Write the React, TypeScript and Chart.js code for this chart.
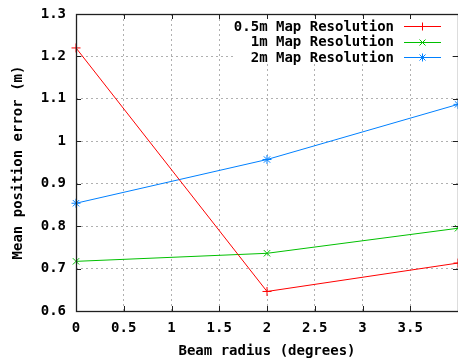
import React, { useEffect, useRef } from 'react';
import { Chart, registerables } from 'chart.js';
Chart.register(...registerables);

const beamRadius = [0, 2, 4];
const res05 = [1.22, 0.646, 0.713];
const res1 = [0.717, 0.736, 0.795];
const res2 = [0.854, 0.957, 1.087];
const seriesLabels = ['0.5m Map Resolution', '1m Map Resolution', '2m Map Resolution'];
const seriesColors = ['#ff0000', '#00c000', '#0080ff'];
const seriesMarkers = ['cross', 'crossRot', 'star'];
const xTitle = 'Beam radius (degrees)';
const yTitle = 'Mean position error (m)';
const xMin = 0, xMax = 4, xStep = 0.5;
const yMin = 0.6, yMax = 1.3, yStep = 0.1;

const FONT = "'DejaVu Sans Mono', monospace";

function drawMarker(ctx: CanvasRenderingContext2D, kind: string, x: number, y: number, r: number) {
  ctx.beginPath();
  if (kind === 'cross' || kind === 'star') {
    ctx.moveTo(x - r, y); ctx.lineTo(x + r, y);
    ctx.moveTo(x, y - r); ctx.lineTo(x, y + r);
  }
  if (kind === 'crossRot' || kind === 'star') {
    const d = r * 0.75;
    ctx.moveTo(x - d, y - d); ctx.lineTo(x + d, y + d);
    ctx.moveTo(x - d, y + d); ctx.lineTo(x + d, y - d);
  }
  ctx.stroke();
}

const framePlugin = {
  id: 'frameAndLegend',
  afterDraw(chart: any) {
    const { ctx, chartArea, scales } = chart;
    const { left, right, top, bottom } = chartArea;
    ctx.save();
    ctx.strokeStyle = '#202020';
    ctx.lineWidth = 1.3;
    ctx.strokeRect(left + 0.5, top + 0.5, right - left, bottom - top);
    // inward tick marks
    const tl = 5;
    ctx.lineWidth = 1;
    ctx.beginPath();
    for (let v = xMin; v <= xMax + 1e-9; v += xStep) {
      const px = Math.round(scales.x.getPixelForValue(v)) + 0.5;
      ctx.moveTo(px, bottom); ctx.lineTo(px, bottom - tl);
      ctx.moveTo(px, top); ctx.lineTo(px, top + tl);
    }
    for (let v = yMin; v <= yMax + 1e-9; v += yStep) {
      const py = Math.round(scales.y.getPixelForValue(v)) + 0.5;
      ctx.moveTo(left, py); ctx.lineTo(left + tl, py);
      ctx.moveTo(right, py); ctx.lineTo(right - tl, py);
    }
    ctx.stroke();
    // legend
    ctx.fillStyle = '#ffffff';
    ctx.fillRect(233, 19, 219, 45);
    const rows = [26, 41.5, 57];
    ctx.font = `bold 14px ${FONT}`;
    ctx.textAlign = 'right';
    ctx.textBaseline = 'middle';
    seriesLabels.forEach((lab, i) => {
      const y = rows[i];
      ctx.fillStyle = '#000';
      ctx.fillText(lab, 394, y + 1);
      ctx.strokeStyle = seriesColors[i];
      ctx.lineWidth = 1;
      ctx.beginPath();
      ctx.moveTo(404, Math.round(y) + 0.5);
      ctx.lineTo(441, Math.round(y) + 0.5);
      ctx.stroke();
      drawMarker(ctx, seriesMarkers[i], 422.5, Math.round(y) + 0.5, 4);
    });
    ctx.restore();
  },
};

export default function App() {
  const ref = useRef<HTMLCanvasElement>(null);
  useEffect(() => {
    if (!ref.current) return;
    const font = { family: FONT, size: 14, weight: 'bold' as const };
    const series = [res05, res1, res2];
    const chart = new Chart(ref.current, {
      type: 'line',
      data: {
        datasets: series.map((vals, i) => ({
          label: seriesLabels[i],
          data: beamRadius.map((x, j) => ({ x, y: vals[j] })),
          borderColor: seriesColors[i],
          backgroundColor: seriesColors[i],
          borderWidth: 1,
          pointStyle: seriesMarkers[i] as any,
          pointRadius: 4.5,
          pointBorderWidth: 1,
          pointBorderColor: seriesColors[i],
          tension: 0,
          fill: false,
          clip: false as any,
        })),
      },
      options: {
        animation: false,
        responsive: false,
        layout: { autoPadding: false, padding: { left: 0, top: 14, right: 2, bottom: 0 } },
        plugins: { legend: { display: false }, tooltip: { enabled: false } },
        scales: {
          x: {
            type: 'linear',
            min: xMin,
            max: xMax,
            afterFit(s: any) { s.height = 47; s.paddingLeft = 0; s.paddingRight = 0; },
            grid: { color: '#b0b0b0', drawTicks: false, lineWidth: 1 },
            border: { display: false, dash: [2, 3] },
            ticks: {
              stepSize: xStep,
              padding: 9,
              color: '#000',
              font,
              maxRotation: 0,
              autoSkip: false,
              callback: (v: any) => (Math.abs(v - xMax) < 1e-9 ? '' : String(Number(Number(v).toFixed(1)))),
            },
            title: { display: true, text: xTitle, color: '#000', font: { ...font, lineHeight: 1 }, padding: { top: 0, bottom: 0 } },
          },
          y: {
            type: 'linear',
            min: yMin,
            max: yMax,
            afterFit(s: any) { s.width = 76; s.paddingTop = 0; s.paddingBottom = 0; },
            grid: { color: '#b0b0b0', drawTicks: false, lineWidth: 1 },
            border: { display: false, dash: [2, 3] },
            ticks: {
              stepSize: yStep,
              padding: 10,
              color: '#000',
              font,
              callback: (v: any) => String(Number(Number(v).toFixed(1))),
            },
            title: { display: true, text: yTitle, color: '#000', font: { ...font, lineHeight: 1 }, padding: { top: 11, bottom: 0 } },
          },
        },
      },
      plugins: [framePlugin],
    });
    return () => chart.destroy();
  }, []);
  return (
    <div style={{ position: 'fixed', left: 0, top: 0, width: 458, height: 358, overflow: 'hidden', background: '#fff' }}>
      <canvas ref={ref} width={460} height={358} style={{ display: 'block' }} />
    </div>
  );
}
